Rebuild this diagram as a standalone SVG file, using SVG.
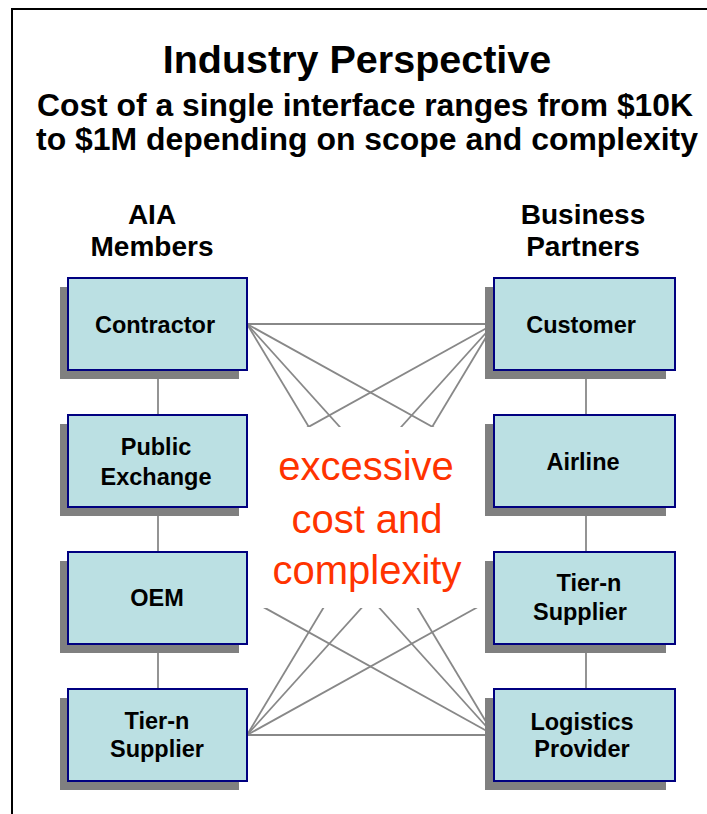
<svg xmlns="http://www.w3.org/2000/svg" width="707" height="814" viewBox="0 0 707 814">
<style>
.bold{font-family:"Liberation Sans",Arial,sans-serif;font-weight:bold;fill:#000;text-anchor:middle}
.lbl{font-family:"Liberation Sans",Arial,sans-serif;font-weight:bold;font-size:23.5px;fill:#000;text-anchor:middle}
.red{font-family:"Liberation Sans",Arial,sans-serif;font-size:40px;fill:#FF3300;text-anchor:middle}
.shadow{fill:#808080}
.box{fill:#BBE0E3;stroke:#000080;stroke-width:2}
.conn line{stroke:#888888;stroke-width:1.8}
</style>
<rect x="12" y="9" width="705" height="815" fill="#fff" stroke="#000" stroke-width="2"/>
<text class="bold" x="357" y="73" font-size="39.5">Industry Perspective</text>
<text class="bold" x="365" y="116" font-size="31" textLength="656" lengthAdjust="spacingAndGlyphs">Cost of a single interface ranges from $10K</text>
<text class="bold" x="367" y="150" font-size="31" textLength="662" lengthAdjust="spacingAndGlyphs">to $1M depending on scope and complexity</text>
<text class="bold" x="152" y="224" font-size="28">AIA</text>
<text class="bold" x="152" y="256" font-size="28">Members</text>
<text class="bold" x="583" y="224" font-size="28">Business</text>
<text class="bold" x="583" y="256" font-size="28">Partners</text>
<g id="connectors" class="conn">
<line x1="158" y1="370" x2="158" y2="415"/>
<line x1="158" y1="507" x2="158" y2="552"/>
<line x1="158" y1="644" x2="158" y2="689"/>
<line x1="586" y1="370" x2="586" y2="415"/>
<line x1="586" y1="507" x2="586" y2="552"/>
<line x1="586" y1="644" x2="586" y2="689"/>
<line x1="247" y1="324" x2="494" y2="324"/>
<line x1="247" y1="324" x2="494" y2="461"/>
<line x1="247" y1="324" x2="494" y2="598"/>
<line x1="247" y1="324" x2="494" y2="735"/>
<line x1="494" y1="324" x2="247" y2="461"/>
<line x1="494" y1="324" x2="247" y2="598"/>
<line x1="494" y1="324" x2="247" y2="735"/>
<line x1="247" y1="735" x2="494" y2="461"/>
<line x1="247" y1="735" x2="494" y2="598"/>
<line x1="247" y1="735" x2="494" y2="735"/>
<line x1="494" y1="735" x2="247" y2="461"/>
<line x1="494" y1="735" x2="247" y2="598"/>
</g>
<g id="cost-label">
<rect x="240" y="427" width="262" height="181" fill="#fff"/>
<text class="red" x="366" y="480">excessive</text>
<text class="red" x="367" y="533">cost and</text>
<text class="red" x="367" y="584">complexity</text>
</g>
<g id="contractor">
<rect class="shadow" x="60" y="287" width="179" height="92"/>
<rect class="box" x="68" y="278" width="179" height="92"/>
<text class="lbl" x="155" y="333">Contractor</text>
</g>
<g id="public-exchange">
<rect class="shadow" x="60" y="424" width="179" height="92"/>
<rect class="box" x="68" y="415" width="179" height="92"/>
<text class="lbl" x="156" y="455">Public</text>
<text class="lbl" x="156" y="485">Exchange</text>
</g>
<g id="oem">
<rect class="shadow" x="60" y="561" width="179" height="92"/>
<rect class="box" x="68" y="552" width="179" height="92"/>
<text class="lbl" x="157" y="606">OEM</text>
</g>
<g id="tier-n-supplier-left">
<rect class="shadow" x="60" y="698" width="179" height="92"/>
<rect class="box" x="68" y="689" width="179" height="92"/>
<text class="lbl" x="157" y="729">Tier-n</text>
<text class="lbl" x="157" y="757">Supplier</text>
</g>
<g id="customer">
<rect class="shadow" x="485" y="287" width="181" height="92"/>
<rect class="box" x="494" y="278" width="181" height="92"/>
<text class="lbl" x="581" y="333">Customer</text>
</g>
<g id="airline">
<rect class="shadow" x="485" y="424" width="181" height="92"/>
<rect class="box" x="494" y="415" width="181" height="92"/>
<text class="lbl" x="583" y="470">Airline</text>
</g>
<g id="tier-n-supplier-right">
<rect class="shadow" x="485" y="561" width="181" height="92"/>
<rect class="box" x="494" y="552" width="181" height="92"/>
<text class="lbl" x="589" y="591">Tier-n</text>
<text class="lbl" x="580" y="620">Supplier</text>
</g>
<g id="logistics-provider">
<rect class="shadow" x="485" y="698" width="181" height="92"/>
<rect class="box" x="494" y="689" width="181" height="92"/>
<text class="lbl" x="582" y="730">Logistics</text>
<text class="lbl" x="582" y="757">Provider</text>
</g>
</svg>
